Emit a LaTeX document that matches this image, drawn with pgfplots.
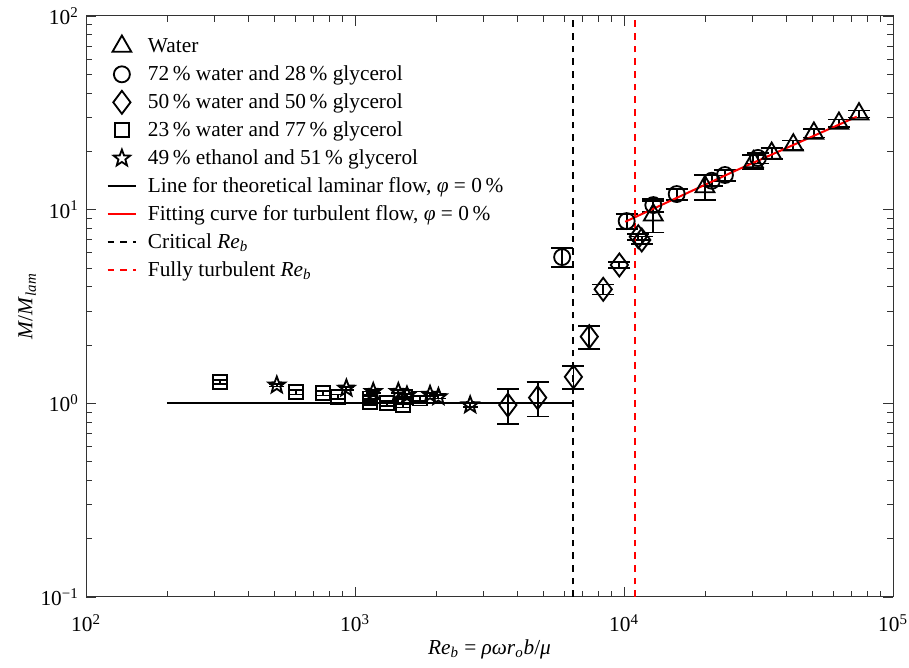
\documentclass[border=0pt]{standalone}
\usepackage{fontspec}
\setmainfont{Liberation Serif}
\usepackage{pgfplots}
\usepackage{pgfplotstable}
\pgfplotsset{compat=1.18}

\pgfdeclareplotmark{ostar}{%
  \pgfpathmoveto{\pgfqpointpolar{90}{\pgfplotmarksize}}%
  \pgfpathlineto{\pgfqpointpolar{126}{0.42\pgfplotmarksize}}%
  \pgfpathlineto{\pgfqpointpolar{162}{\pgfplotmarksize}}%
  \pgfpathlineto{\pgfqpointpolar{198}{0.42\pgfplotmarksize}}%
  \pgfpathlineto{\pgfqpointpolar{234}{\pgfplotmarksize}}%
  \pgfpathlineto{\pgfqpointpolar{270}{0.42\pgfplotmarksize}}%
  \pgfpathlineto{\pgfqpointpolar{306}{\pgfplotmarksize}}%
  \pgfpathlineto{\pgfqpointpolar{342}{0.42\pgfplotmarksize}}%
  \pgfpathlineto{\pgfqpointpolar{18}{\pgfplotmarksize}}%
  \pgfpathlineto{\pgfqpointpolar{54}{0.42\pgfplotmarksize}}%
  \pgfpathclose
  \pgfusepathqstroke}

\pgfplotstableread{
x y e
12850 9.38 1.75
20000 13.13 1.9
30270 17.67 1.4
35400 19.53 1.3
42600 21.57 1.2
50800 24.8 1.2
62950 27.9 1.3
74750 31.2 1.3
}\water
\pgfplotstableread{
x y e
5888 5.69 0.63
10230 8.73 0.77
12850 10.56 0.8
15700 12.04 0.8
21200 14.1 0.9
23730 15.1 1.0
31480 18.5 1.2
}\wgA
\pgfplotstableread{
x y e
3700 0.98 0.20
4775 1.07 0.215
6486 1.37 0.19
7430 2.21 0.30
8370 3.88 0.23
9610 5.18 0.20
11300 7.25 0.25
11640 6.97 0.30
}\wgB
\pgfplotstableread{
x y e
315 1.29 0.03
603 1.14 0.03
760 1.126 0.03
867 1.08 0.03
1137 1.06 0.03
1140 1.02 0.03
1312 1.0 0.03
1513 0.98 0.03
1535 1.08 0.03
1745 1.06 0.03
}\wgC
\pgfplotstableread{
x y e
512 1.24 0.02
929 1.195 0.02
1169 1.148 0.02
1449 1.148 0.02
1560 1.10 0.02
1901 1.11 0.02
2042 1.08 0.02
2680 0.98 0.02
}\eg

\begin{document}
\fontsize{12.8pt}{15pt}\selectfont
\begin{tikzpicture}
\begin{axis}[
  xmode=log, ymode=log,
  scale only axis, width=484.2pt, height=348.6pt,
  xmin=100, xmax=100000, ymin=0.1, ymax=100,
  xtick={100,1000,10000,100000},
  xticklabels={10\textsuperscript{2},10\textsuperscript{3},10\textsuperscript{4},10\textsuperscript{5}},
  ytick={0.1,1,10,100},
  yticklabels={10\textsuperscript{−1},10\textsuperscript{0},10\textsuperscript{1},10\textsuperscript{2}},
  minor xtick={200,300,400,500,600,700,800,900,2000,3000,4000,5000,6000,7000,8000,9000,20000,30000,40000,50000,60000,70000,80000,90000},
  minor ytick={0.2,0.3,0.4,0.5,0.6,0.7,0.8,0.9,2,3,4,5,6,7,8,9,20,30,40,50,60,70,80,90},
  tick align=inside,
  axis line style={black!80, line width=0.6pt},
  every tick/.style={black!80, line width=0.5pt},
  major tick length=6pt, minor tick length=3.6pt,
  tick label style={font=\fontsize{12.8pt}{15pt}\selectfont},
  xticklabel style={yshift=-6pt},
  label style={font=\fontsize{12.8pt}{15pt}\selectfont},
  xlabel shift=-4pt,
  ylabel shift=-6pt,
  xlabel={\textit{Re}\textsubscript{\textit{b}} = \textit{ρωr}\textsubscript{\textit{o}}\textit{b}/\textit{μ}},
  ylabel={\textit{M}/\textit{M}\textsubscript{\textit{lam}}},
  legend cell align=left,
  legend style={draw=none, fill=none, at={(0,1)}, anchor=north west,
    xshift=12.2pt, yshift=-9.6pt, row sep=0pt, column sep=4.5pt, inner sep=0pt,
    font=\fontsize{12.8pt}{15pt}\selectfont,
    nodes={text height=10.2pt, text depth=3.2pt, inner ysep=1.7pt}},
  error bars/error bar style={line width=1.1pt},
  error bars/error mark options={rotate=90, mark size=6.6pt, line width=1.1pt},
]
\addplot[black, only marks, mark=triangle, mark size=6.5pt, mark options={line width=1.1pt},
  error bars/.cd, y dir=both, y explicit] table[x=x, y=y, y error=e] {\water};
\addplot[black, only marks, mark=o, mark size=4.8pt, mark options={line width=1.1pt},
  error bars/.cd, y dir=both, y explicit] table[x=x, y=y, y error=e] {\wgA};
\addplot[black, only marks, mark=diamond, mark size=6.9pt, mark options={line width=1.1pt},
  error bars/.cd, y dir=both, y explicit] table[x=x, y=y, y error=e] {\wgB};
\addplot[black, only marks, mark=square, mark size=4.2pt, mark options={line width=1.1pt},
  error bars/.cd, y dir=both, y explicit, error mark options={rotate=90, mark size=4.2pt, line width=1pt}] table[x=x, y=y, y error=e] {\wgC};
\addplot[black, only marks, mark=ostar, mark size=5.2pt, mark options={line width=1.1pt},
  error bars/.cd, y dir=both, y explicit, error mark options={rotate=90, mark size=4.5pt, line width=1pt}] table[x=x, y=y, y error=e] {\eg};
\addplot[black, line width=1.2pt] coordinates {(200,1) (6450,1)};
\addplot[red, line width=1.2pt] coordinates {(10100,8.66) (25470,15.7) (73300,30.2)};
\addplot[black, line width=1.2pt, dash pattern=on 4pt off 3.6pt] coordinates {(6450,0.1) (6450,100)};
\addplot[red, line width=1.2pt, dash pattern=on 4pt off 3.6pt] coordinates {(11000,0.1) (11000,100)};
\legend{Water,
  72\,\% water and 28\,\% glycerol,
  50\,\% water and 50\,\% glycerol,
  23\,\% water and 77\,\% glycerol,
  49\,\% ethanol and 51\,\% glycerol,
  {Line for theoretical laminar flow, \textit{φ} = 0\,\%},
  {Fitting curve for turbulent flow, \textit{φ} = 0\,\%},
  {Critical \textit{Re}\textsubscript{\textit{b}}},
  {Fully turbulent \textit{Re}\textsubscript{\textit{b}}}}
\end{axis}
\pgfresetboundingbox
\path ([shift={(-51.6pt,-42.6pt)}]current axis.south west) rectangle ([shift={(9.6pt,9.6pt)}]current axis.north east);
\end{tikzpicture}
\end{document}
